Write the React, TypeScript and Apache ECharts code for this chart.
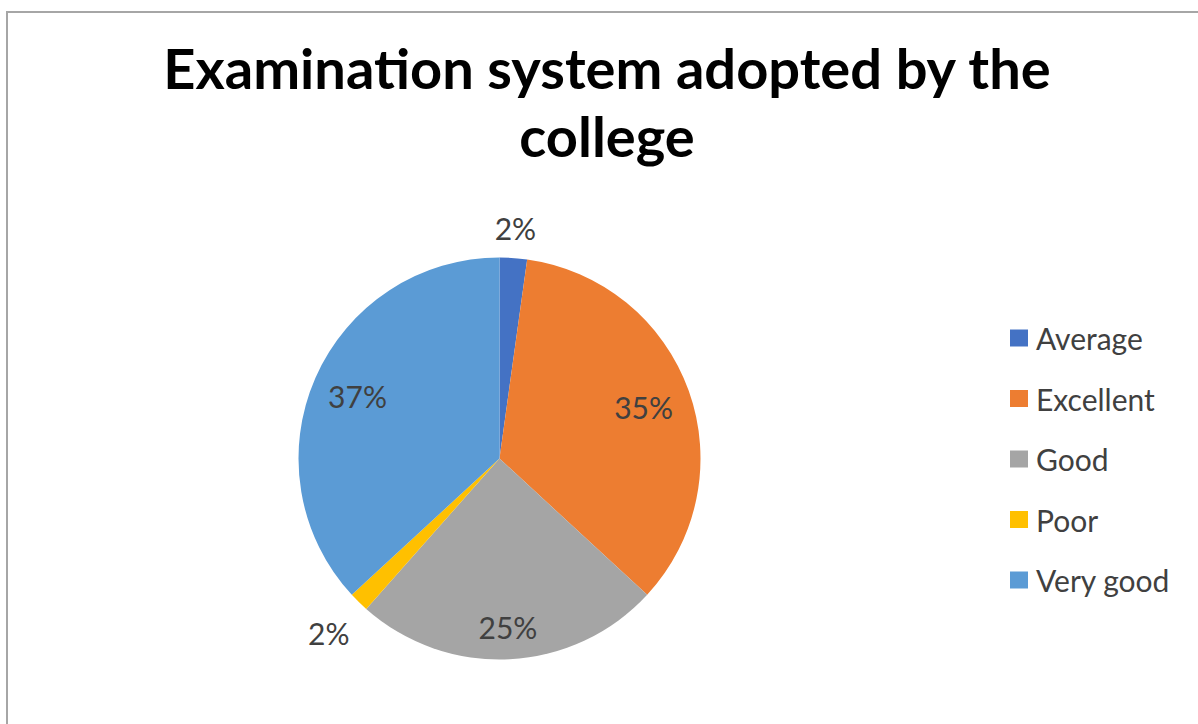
import React, { useEffect, useRef } from "react";
import * as echarts from "echarts";

const categories = ["Average", "Excellent", "Good", "Poor", "Very good"];
const shares = [2.2, 34.7, 24.7, 1.6, 36.9];
const colors = ["#4472C4", "#ED7D31", "#A5A5A5", "#FFC000", "#5B9BD5"];
const titleLines = ["Examination system adopted by the", "college"];

// distance of each slice label from the pie centre (px)
const labelRadii = [228, 150, 166, 241, 152];

const CENTER = [499.5, 458.5];
const RADIUS = 201;
const FONT = "Lato, 'Open Sans', sans-serif";

export default function App() {
  const ref = useRef<HTMLDivElement>(null);
  useEffect(() => {
    document.body.style.margin = "0";
    const chart = echarts.init(ref.current!, null, { renderer: "svg" });
    const data = categories.map((name, i) => ({
      name,
      value: shares[i],
      itemStyle: { color: colors[i] },
    }));
    const labelSeries = categories.map((_, idx) => ({
      type: "pie",
      silent: true,
      center: CENTER,
      radius: [labelRadii[idx] - 1, labelRadii[idx] + 1],
      startAngle: 90,
      clockwise: true,
      legendHoverLink: false,
      itemStyle: { color: "transparent", borderWidth: 0 },
      emphasis: { disabled: true },
      labelLine: { show: false },
      data: categories.map((name, i) => ({
        name,
        value: shares[i],
        itemStyle: { color: "transparent" },
        label: { show: i === idx },
      })),
      label: {
        position: "inside",
        formatter: (p: any) => Math.round(p.percent) + "%",
        color: "#404040",
        fontSize: 30,
        fontFamily: FONT,
      },
    }));
    chart.setOption({
      animation: false,
      backgroundColor: "#ffffff",
      graphic: [
        {
          type: "rect",
          shape: { x: 7, y: 12, width: 1300, height: 900 },
          style: { fill: "none", stroke: "#a6a6a6", lineWidth: 2 },
          silent: true,
        },
        {
          type: "text",
          x: 607,
          y: 95,
          style: {
            text: titleLines[0],
            fill: "#000000",
            font: `bold 56px ${FONT}`,
            textAlign: "center",
            textVerticalAlign: "bottom",
          },
        },
        {
          type: "text",
          x: 607,
          y: 163,
          style: {
            text: titleLines[1],
            fill: "#000000",
            font: `bold 56px ${FONT}`,
            textAlign: "center",
            textVerticalAlign: "bottom",
          },
        },
      ],
      legend: {
        data: categories,
        orient: "vertical",
        left: 1010,
        top: 323,
        padding: 0,
        itemWidth: 18,
        itemHeight: 17,
        itemGap: 30.5,
        icon: "rect",
        textStyle: {
          color: "#404040",
          fontSize: 30,
          fontFamily: FONT,
          lineHeight: 30,
          padding: [0, 0, 0, 3],
        },
        selectedMode: false,
      },
      series: [
        {
          type: "pie",
          name: "Examination",
          center: CENTER,
          radius: RADIUS,
          startAngle: 90,
          clockwise: true,
          label: { show: false },
          labelLine: { show: false },
          emphasis: { disabled: true },
          itemStyle: { borderWidth: 0 },
          data,
        },
        ...labelSeries,
      ],
    });
    return () => chart.dispose();
  }, []);
  return <div ref={ref} style={{ width: 1198, height: 724 }} />;
}
